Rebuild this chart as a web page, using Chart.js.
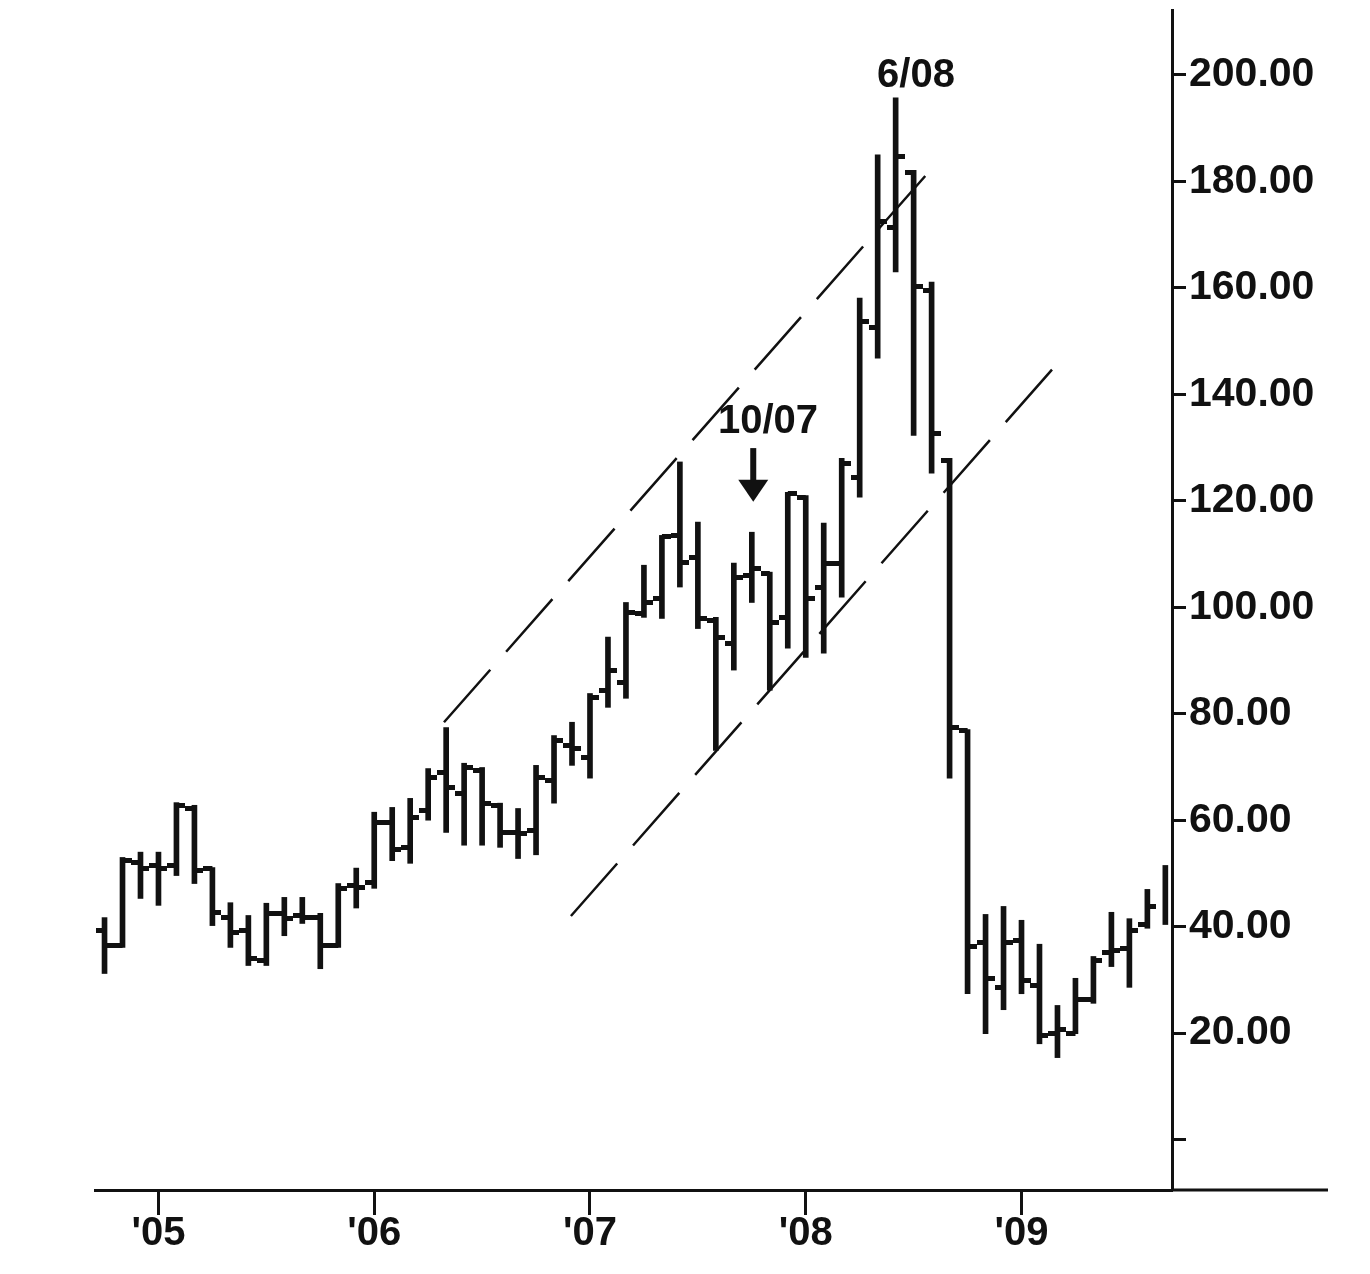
<!DOCTYPE html>
<html>
<head>
<meta charset="utf-8">
<title>Monthly price bars 2004-2009</title>
<script src="https://cdn.jsdelivr.net/npm/chart.js@4.4.1/dist/chart.umd.min.js"></script>
<style>
  html, body { margin: 0; padding: 0; background: #fff; }
  #wrap { width: 1370px; height: 1274px; }
</style>
</head>
<body>
<div id="wrap"><canvas id="chart" width="1370" height="1274"></canvas></div>
<script>
// monthly bars, Oct 2004 .. Sep 2009 (x = position in this list)
const months = [
  '10/04','11/04','12/04',
  '1/05','2/05','3/05','4/05','5/05','6/05','7/05','8/05','9/05','10/05','11/05','12/05',
  '1/06','2/06','3/06','4/06','5/06','6/06','7/06','8/06','9/06','10/06','11/06','12/06',
  '1/07','2/07','3/07','4/07','5/07','6/07','7/07','8/07','9/07','10/07','11/07','12/07',
  '1/08','2/08','3/08','4/08','5/08','6/08','7/08','8/08','9/08','10/08','11/08','12/08',
  '1/09','2/09','3/09','4/09','5/09','6/09','7/09','8/09','9/09'
]
const opens = [
  39.3, 36.5, 52,
  51.5, 51.5, 62.2, 51, 41.7, 39.3, 33.6, 42.5, 42.1, 41.7, 36.5, 47.8,
  48.3, 59.6, 54.9, 61.8, 69, 65, 69.4, 62.8, 57.7, 58, 67.5, 74,
  71.8, 84.4, 85.9, 98.9, 101.7, 113.5, 109.4, 97.6, 93.2, 106, 106.4, 98.1,
  120.7, 103.8, 108.3, 124.4, 152.6, 171.4, 181.6, 159.6, 127.6, 76.9, 37, 28.6,
  37.4, 28.9, 19.9, 19.9, 26.3, 35.2, 35.9, 40.4, null
]
const highs = [
  41.7, 53, 54,
  54, 63.3, 62.8, 51.1, 44.5, 42.1, 44.4, 45.5, 45.5, 42.5, 48.1, 51,
  61.5, 62.4, 64.1, 69.7, 77.4, 70.7, 69.9, 63.2, 62.2, 70.3, 75.9, 78.4,
  83.8, 94.4, 100.9, 107.9, 113.5, 127.3, 116, 98.1, 108.3, 114.1, 106.6, 121.6,
  121, 115.8, 128, 158.1, 185, 195.7, 182.1, 161.1, 128, 77, 42.3, 43.8,
  41.2, 36.7, 25.2, 30.3, 34.4, 42.7, 41.5, 47, 51.5
]
const lows = [
  31.2, 36.1, 45.3,
  44, 49.6, 48.1, 40.2, 36.1, 32.7, 32.7, 38.3, 40.6, 32.1, 36.1, 43.5,
  47.2, 52.4, 51.9, 60, 57.7, 55.3, 55.3, 54.9, 52.8, 53.5, 63.2, 70.3,
  67.9, 81.2, 82.9, 98.1, 97.9, 103.8, 96, 73.1, 88.2, 100.9, 84.4, 92.3,
  90.6, 91.4, 101.9, 120.7, 146.8, 163, 132.3, 125.2, 67.9, 27.4, 19.9, 24.4,
  27.4, 18, 15.4, 19.9, 25.6, 32.5, 28.6, 39.7, 40.4
]
const closes = [
  36.5, 52.4, 51,
  51, 62.8, 50.6, 42.7, 38.9, 34, 42.5, 41.5, 41.7, 36.5, 47.2, 47.4,
  59.6, 54.5, 60.5, 68, 66.2, 69.9, 63.2, 57.7, 57.5, 68, 75, 73.5,
  83, 88.2, 99.1, 100.9, 113.2, 108.5, 97.9, 94.4, 105.6, 107.3, 97.2, 121.4,
  101.7, 108.3, 127.1, 153.6, 172.4, 184.6, 160.2, 132.7, 77.4, 36.3, 30.3, 37,
  29.9, 19.5, 20.7, 26.3, 33.6, 35.5, 39.3, 43.8, null
]

// trend channel (month position, price)
const upperX = [18.88, 46.19]
const upperY = [78.4, 183.1]
const lowerX = [25.94, 53.31]
const lowerY = [42.0, 147.0]

// axes
const yearTicks = [3, 15, 27, 39, 51]
const yearLabels = ["'05", "'06", "'07", "'08", "'09"]
const priceTicks = [0, 20, 40, 60, 80, 100, 120, 140, 160, 180, 200]

const INK = '#111'
const FONT = '"Liberation Sans", Arial, Helvetica, sans-serif'

// little open / close tick images, drawn centred on the bar
function tickImage(side) {
  const c = document.createElement('canvas')
  c.width = 18
  c.height = 5
  const g = c.getContext('2d')
  g.fillStyle = INK
  g.fillRect(side === 'left' ? 0 : 9, 0, 9, 5)
  return c
}

const rangeData = months.map((m, i) => ({ x: i, y: [lows[i], highs[i]] }))
const openData = []
const closeData = []
months.forEach((m, i) => {
  if (opens[i] != null) openData.push({ x: i, y: opens[i] })
  if (closes[i] != null) closeData.push({ x: i, y: closes[i] })
})

const notes = {
  id: 'notes',
  afterDatasetsDraw(chart) {
    const { ctx, scales: { x, y }, chartArea } = chart
    ctx.save()
    ctx.fillStyle = INK
    ctx.font = 'bold 40px ' + FONT
    ctx.textAlign = 'center'
    ctx.textBaseline = 'alphabetic'
    ctx.fillText('10/07', x.getPixelForValue(36.9), y.getPixelForValue(132.7))
    ctx.fillText('6/08', x.getPixelForValue(45.13), y.getPixelForValue(197.8))

    // arrow pointing at the 10/07 bar
    const ax = x.getPixelForValue(36.08)
    const top = y.getPixelForValue(129.9)
    const tip = y.getPixelForValue(119.8)
    ctx.fillRect(ax - 3, top, 6, tip - top - 20)
    ctx.beginPath()
    ctx.moveTo(ax - 15, tip - 22)
    ctx.lineTo(ax + 15, tip - 22)
    ctx.lineTo(ax, tip)
    ctx.closePath()
    ctx.fill()

    // bottom axis runs on past the price scale
    ctx.strokeStyle = INK
    ctx.lineWidth = 3
    ctx.beginPath()
    ctx.moveTo(chartArea.right, chartArea.bottom)
    ctx.lineTo(chartArea.right + 156, chartArea.bottom)
    ctx.stroke()
    ctx.restore()
  }
}

new Chart(document.getElementById('chart'), {
  type: 'bar',
  data: {
    datasets: [
      {
        type: 'bar',
        data: rangeData,
        backgroundColor: INK,
        borderWidth: 0,
        barThickness: 5,
        grouped: false
      },
      {
        type: 'scatter',
        data: openData,
        pointStyle: tickImage('left'),
        pointRadius: 3
      },
      {
        type: 'scatter',
        data: closeData,
        pointStyle: tickImage('right'),
        pointRadius: 3
      },
      {
        type: 'line',
        data: upperX.map((v, i) => ({ x: v, y: upperY[i] })),
        borderColor: INK,
        borderWidth: 2.5,
        borderDash: [70, 24],
        pointRadius: 0,
        fill: false
      },
      {
        type: 'line',
        data: lowerX.map((v, i) => ({ x: v, y: lowerY[i] })),
        borderColor: INK,
        borderWidth: 2.5,
        borderDash: [70, 24],
        pointRadius: 0,
        fill: false
      }
    ]
  },
  options: {
    responsive: false,
    animation: false,
    layout: { padding: { left: 95, right: 0, top: 10, bottom: 0 } },
    plugins: { legend: { display: false }, tooltip: { enabled: false } },
    scales: {
      x: {
        type: 'linear',
        offset: false,
        min: -0.53,
        max: 59.37,
        afterBuildTicks: s => { s.ticks = yearTicks.map(v => ({ value: v })) },
        afterFit: s => {
          s.height = 84
          s.paddingLeft = 0
          s.paddingRight = 0
        },
        grid: {
          offset: false,
          drawOnChartArea: false,
          drawTicks: true,
          tickLength: 25,
          tickWidth: 3,
          tickColor: INK
        },
        border: { display: true, color: INK, width: 3 },
        ticks: {
          autoSkip: false,
          maxRotation: 0,
          padding: -5,
          color: INK,
          font: { family: FONT, size: 40, weight: 'bold' },
          callback: v => yearLabels[yearTicks.indexOf(v)]
        }
      },
      y: {
        position: 'right',
        min: -9.47,
        max: 212.2,
        afterBuildTicks: s => { s.ticks = priceTicks.map(v => ({ value: v })) },
        afterFit: s => {
          s.width = 198
          s.paddingTop = 0
          s.paddingBottom = 0
        },
        grid: {
          drawOnChartArea: false,
          drawTicks: true,
          tickLength: 14,
          tickWidth: 3,
          tickColor: INK
        },
        border: { display: true, color: INK, width: 3 },
        ticks: {
          padding: 3,
          color: INK,
          font: { family: FONT, size: 41, weight: 'bold' },
          callback: v => v === 0 ? '' : v.toFixed(2)
        }
      }
    }
  },
  plugins: [notes]
})
</script>
</body>
</html>
